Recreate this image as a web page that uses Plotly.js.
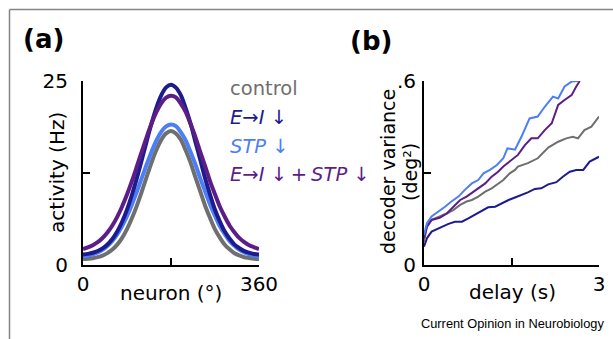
<!DOCTYPE html>
<html>
<head>
<meta charset="utf-8">
<script src="https://cdn.plot.ly/plotly-3.0.1.min.js"></script>
<style>html,body{margin:0;padding:0;background:#fff;}#chart{width:613px;height:339px;}</style>
</head>
<body>
<div id="chart"></div>
<script>
// ---------- Panel (a): activity profiles ----------
const neuronDeg = [0,10,20,30,40,50,60,70,80,90,100,110,120,130,140,150,160,170,180,190,200,210,220,230,240,250,260,270,280,290,300,310,320,330,340,350,360];
const actControl = [0.80,0.85,0.93,1.07,1.28,1.61,2.10,2.77,3.69,4.88,6.34,8.04,9.94,11.93,13.88,15.62,17.00,17.89,18.2,17.86,17.03,15.59,13.91,11.9,9.97,8.01,6.37,4.85,3.71,2.75,2.12,1.59,1.3,1.06,0.94,0.84,0.81];
const actEI = [1.42,1.51,1.66,1.90,2.26,2.79,3.54,4.56,5.88,7.53,9.51,11.77,14.23,16.76,19.19,21.35,23.04,24.13,24.5,24.1,23.08,21.31,19.22,16.73,14.26,11.74,9.54,7.5,5.9,4.54,3.56,2.77,2.28,1.88,1.67,1.5,1.43];
const actSTP = [1.17,1.28,1.45,1.71,2.07,2.58,3.27,4.16,5.28,6.63,8.20,9.93,11.77,13.62,15.37,16.90,18.09,18.84,19.1,18.87,18.06,16.93,15.34,13.65,11.74,9.96,8.17,6.66,5.25,4.18,3.25,2.6,2.05,1.72,1.44,1.29,1.16];
const actBoth = [2.18,2.39,2.69,3.10,3.67,4.41,5.36,6.53,7.94,9.57,11.39,13.35,15.37,17.35,19.18,20.76,21.97,22.74,23.0,22.78,21.93,20.8,19.15,17.38,15.33,13.38,11.36,9.6,7.91,6.55,5.34,4.43,3.65,3.12,2.67,2.41,2.16];

// ---------- Panel (b): decoder variance ----------
const tControl = [0,0.05,0.13,0.27,0.39,0.50,0.62,0.73,0.82,0.93,1.05,1.16,1.25,1.36,1.47,1.56,1.61,1.78,1.95,2.13,2.30,2.44,2.55,2.64,2.75,2.87,3.0];
const varControl = [0.076,0.125,0.147,0.158,0.168,0.179,0.196,0.207,0.212,0.223,0.239,0.25,0.261,0.277,0.299,0.31,0.321,0.332,0.348,0.383,0.402,0.413,0.418,0.413,0.44,0.451,0.484];
const tEI = [0,0.05,0.13,0.22,0.30,0.42,0.53,0.65,0.76,0.87,0.99,1.10,1.22,1.33,1.45,1.56,1.67,1.78,1.90,2.01,2.13,2.27,2.38,2.50,2.61,2.73,2.84,3.0];
const varEI = [0.060,0.087,0.109,0.117,0.122,0.134,0.141,0.141,0.152,0.163,0.176,0.188,0.190,0.201,0.212,0.220,0.228,0.237,0.248,0.25,0.263,0.270,0.288,0.304,0.31,0.31,0.337,0.353];
const tSTP = [0,0.05,0.13,0.25,0.36,0.47,0.59,0.70,0.82,0.93,1.02,1.13,1.25,1.36,1.43,1.50,1.56,1.67,1.81,1.95,2.07,2.21,2.30,2.41,2.53,2.64];
const varSTP = [0.098,0.136,0.158,0.174,0.190,0.207,0.223,0.245,0.266,0.277,0.299,0.31,0.326,0.348,0.380,0.378,0.376,0.418,0.478,0.484,0.516,0.549,0.543,0.582,0.598,0.60];
const tBoth = [0,0.05,0.13,0.27,0.39,0.50,0.62,0.73,0.85,0.93,1.05,1.16,1.27,1.36,1.47,1.56,1.61,1.73,1.84,1.95,2.07,2.19,2.30,2.41,2.53,2.61,2.67];
const varBoth = [0.087,0.125,0.147,0.154,0.168,0.190,0.212,0.223,0.239,0.25,0.266,0.288,0.304,0.321,0.337,0.35,0.359,0.391,0.413,0.413,0.44,0.462,0.522,0.538,0.554,0.582,0.60];

const seriesNames = ['control', '<i>E</i>→<i>I</i> ↓', '<i>STP</i> ↓', '<i>E</i>→<i>I</i> ↓\u2009+\u2009<i>STP</i> ↓'];
const xTicksA = [0, 360], xTickTextA = ['0', '360'], xMinorA = [180];
const yTicksA = [0, 25], yTickTextA = ['0', '25'], yMinorA = [12.5];
const xTicksB = [0, 3], xTickTextB = ['0', '3'], xMinorB = [1.5];
const yTicksB = [0, 0.6], yTickTextB = ['0', '.6'], yMinorB = [0.3];

const colors = {control: '#6f6f6f', ei: '#1c1c8e', stp: '#4d7ef6', both: '#5c1d87'};
const W = 613, H = 339;
const px = x => x / W, py = y => 1 - y / H;

const traces = [
  {x: neuronDeg, y: actControl, xaxis: 'x', yaxis: 'y', mode: 'lines', line: {color: colors.control, width: 4, shape: 'spline'}},
  {x: neuronDeg, y: actSTP, xaxis: 'x', yaxis: 'y', mode: 'lines', line: {color: colors.stp, width: 4, shape: 'spline'}},
  {x: neuronDeg, y: actEI, xaxis: 'x', yaxis: 'y', mode: 'lines', line: {color: colors.ei, width: 4, shape: 'spline'}},
  {x: neuronDeg, y: actBoth, xaxis: 'x', yaxis: 'y', mode: 'lines', line: {color: colors.both, width: 4, shape: 'spline'}},
  {x: tEI, y: varEI, xaxis: 'x2', yaxis: 'y2', mode: 'lines', line: {color: colors.ei, width: 2}},
  {x: tControl, y: varControl, xaxis: 'x2', yaxis: 'y2', mode: 'lines', line: {color: colors.control, width: 2}},
  {x: tBoth, y: varBoth, xaxis: 'x2', yaxis: 'y2', mode: 'lines', line: {color: colors.both, width: 2}},
  {x: tSTP, y: varSTP, xaxis: 'x2', yaxis: 'y2', mode: 'lines', line: {color: colors.stp, width: 2}}
];

const axBase = {
  showline: true, linecolor: '#000', linewidth: 2, mirror: false,
  ticks: 'inside', ticklen: 7, tickwidth: 2, tickcolor: '#000',
  showgrid: false, zeroline: false, fixedrange: true, tickmode: 'array',
  tickfont: {family: 'DejaVu Sans', size: 20, color: '#000'}
};
const minorOf = vals => ({tickmode: 'array', tickvals: vals, ticks: 'inside', ticklen: 7, tickwidth: 2, tickcolor: '#000', showgrid: false});

const ann = (text, x, y, opts) => Object.assign({
  text: text, x: px(x), y: py(y), xref: 'paper', yref: 'paper', showarrow: false,
  xanchor: 'center', yanchor: 'middle', font: {family: 'DejaVu Sans', size: 20, color: '#000'}
}, opts || {});

const layout = {
  width: W, height: H, margin: {l: 0, r: 0, t: 0, b: 0},
  paper_bgcolor: '#fff', plot_bgcolor: '#fff', showlegend: false,
  font: {family: 'DejaVu Sans', size: 20, color: '#000'},
  xaxis: Object.assign({}, axBase, {domain: [px(83), px(259)], range: [0, 360], tickvals: xTicksA, ticktext: xTickTextA, minor: minorOf(xMinorA), anchor: 'y'}),
  yaxis: Object.assign({}, axBase, {domain: [py(265), py(81)], range: [0, 25], tickvals: yTicksA, ticktext: yTickTextA, minor: minorOf(yMinorA), anchor: 'x', ticklabelstandoff: 9}),
  xaxis2: Object.assign({}, axBase, {domain: [px(424), px(599)], range: [0, 3], tickvals: xTicksB, ticktext: xTickTextB, minor: minorOf(xMinorB), anchor: 'y2'}),
  yaxis2: Object.assign({}, axBase, {domain: [py(265), py(81)], range: [0, 0.6], tickvals: yTicksB, ticktext: yTickTextB, minor: minorOf(yMinorB), anchor: 'x2', ticklabelstandoff: 2}),
  shapes: [
    {type: 'line', xref: 'paper', yref: 'paper', x0: px(9.5), x1: px(9.5), y0: 0, y1: py(9.5), line: {color: '#858585', width: 1.5}},
    {type: 'line', xref: 'paper', yref: 'paper', x0: px(9.5), x1: 1, y0: py(9.5), y1: py(9.5), line: {color: '#858585', width: 1.5}}
  ],
  annotations: [
    ann('<b>(a)</b>', 43, 39, {font: {family: 'DejaVu Sans', size: 26, color: '#000'}}),
    ann('<b>(b)</b>', 371, 41, {font: {family: 'DejaVu Sans', size: 26, color: '#000'}}),
    ann('neuron (°)', 171, 293),
    ann('activity (Hz)', 57, 173, {textangle: -90}),
    ann('delay (s)', 512, 292),
    ann('decoder variance', 388, 172, {textangle: -90, font: {family: 'DejaVu Sans', size: 19, color: '#000'}}),
    ann('(deg²)', 410, 172, {textangle: -90, font: {family: 'DejaVu Sans', size: 19, color: '#000'}}),
    ann(seriesNames[0], 228, 88, {xanchor: 'left', font: {family: 'DejaVu Sans', size: 19.5, color: colors.control}}),
    ann(seriesNames[1], 228, 117, {xanchor: 'left', font: {family: 'DejaVu Sans', size: 19.5, color: colors.ei}}),
    ann(seriesNames[2], 228, 146, {xanchor: 'left', font: {family: 'DejaVu Sans', size: 19.5, color: colors.stp}}),
    ann(seriesNames[3], 228, 175, {xanchor: 'left', font: {family: 'DejaVu Sans', size: 19.5, color: colors.both}}),
    ann('Current Opinion in Neurobiology', 512, 323, {font: {family: 'Liberation Sans, Arial, sans-serif', size: 12.8, color: '#000'}})
  ]
};

Plotly.newPlot('chart', traces, layout, {staticPlot: true, displayModeBar: false});
</script>
</body>
</html>
